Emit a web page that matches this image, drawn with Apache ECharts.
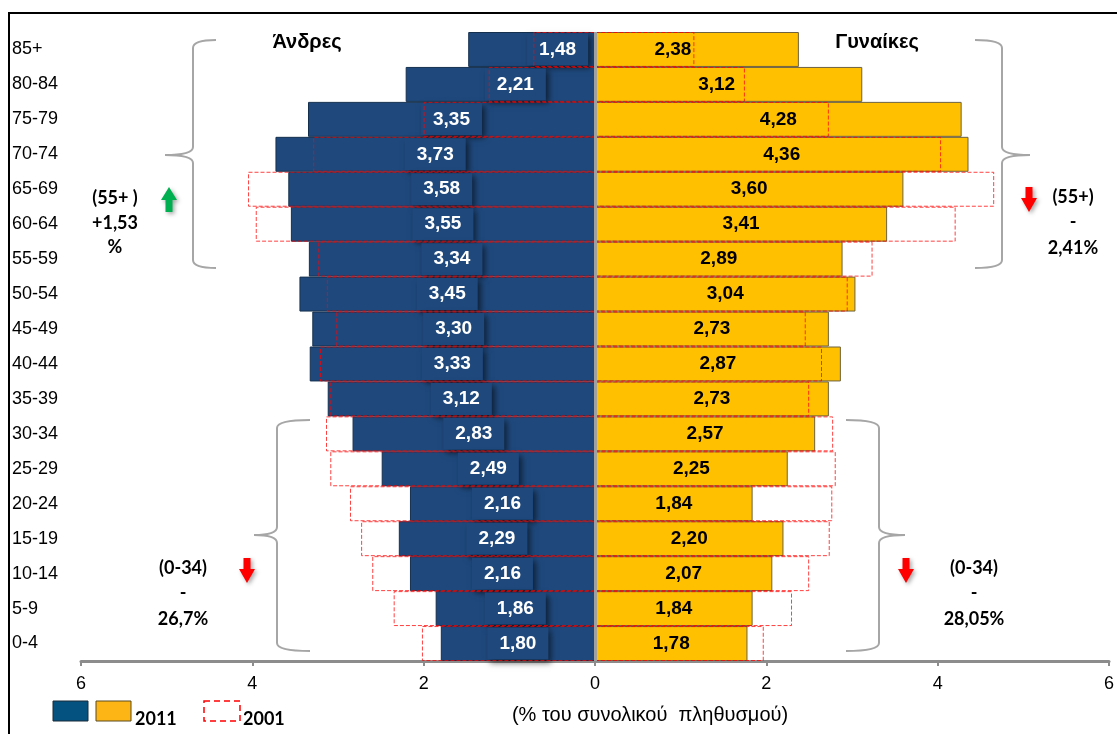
<!DOCTYPE html>
<html>
<head>
<meta charset="utf-8">
<script src="https://cdn.jsdelivr.net/npm/echarts@6/dist/echarts.min.js"></script>
<style>
html,body{margin:0;padding:0;background:#fff;}
#chart{width:1117px;height:734px;}
</style>
</head>
<body>
<div id="chart"></div>
<script>
// Age groups, top to bottom
var categories = ["85+","80-84","75-79","70-74","65-69","60-64","55-59","50-54","45-49","40-44","35-39","30-34","25-29","20-24","15-19","10-14","5-9","0-4"];
// 2011 (% of total population)
var men2011   = [1.48,2.21,3.35,3.73,3.58,3.55,3.34,3.45,3.30,3.33,3.12,2.83,2.49,2.16,2.29,2.16,1.86,1.80];
var women2011 = [2.38,3.12,4.28,4.36,3.60,3.41,2.89,3.04,2.73,2.87,2.73,2.57,2.25,1.84,2.20,2.07,1.84,1.78];
// 2001 (estimated from outlines)
var men2001   = [0.72,1.24,2.00,3.29,4.05,3.96,3.23,3.13,3.02,3.21,3.09,3.14,3.09,2.86,2.73,2.60,2.35,2.02];
var women2001 = [1.16,1.75,2.73,4.04,4.66,4.21,3.24,2.95,2.46,2.65,2.50,2.78,2.81,2.77,2.74,2.50,2.30,1.97];

function fmt(v){ return Math.abs(v).toFixed(2).replace('.', ','); }

// label nudges (pixels) for the first rows, as placed in the original
var menNudge = {0: 26, 1: 15};
var womenNudge = {0: -24, 1: -12};
function items(arr, sign, nudge){
  return arr.map(function(v, i){
    var o = {value: sign * v};
    if (nudge && nudge[i] !== undefined) o.label = {offset: [nudge[i], 0]};
    return o;
  });
}

var chart = echarts.init(document.getElementById('chart'));

var braceStyle = {stroke:'#A6A6A6', lineWidth:2, fill:null};
function brace(xv, xc, xt, y1, ym, y2){
  var r = 8;
  return {
    type: 'group',
    children: [
      {type:'bezierCurve', shape:{x1:xc, y1:y1, x2:xv, y2:y1+r, cpx1:xv, cpy1:y1}, style:braceStyle},
      {type:'line', shape:{x1:xv, y1:y1+r, x2:xv, y2:ym-r}, style:braceStyle},
      {type:'bezierCurve', shape:{x1:xv, y1:ym-r, x2:xt, y2:ym, cpx1:xv, cpy1:ym}, style:braceStyle},
      {type:'bezierCurve', shape:{x1:xt, y1:ym, x2:xv, y2:ym+r, cpx1:xv, cpy1:ym}, style:braceStyle},
      {type:'line', shape:{x1:xv, y1:ym+r, x2:xv, y2:y2-r}, style:braceStyle},
      {type:'bezierCurve', shape:{x1:xv, y1:y2-r, x2:xc, y2:y2, cpx1:xv, cpy1:y2}, style:braceStyle}
    ]
  };
}
function downArrow(x, y){ // x = center, y = top
  return [[x-3.5,y],[x+3.5,y],[x+3.5,y+11],[x+8,y+11],[x,y+25],[x-8,y+11],[x-3.5,y+11]];
}
function upArrow(x, y){ // x = center, y = top
  return [[x,y],[x+8,y+13],[x+3.5,y+13],[x+3.5,y+25],[x-3.5,y+25],[x-3.5,y+13],[x-8,y+13]];
}
var arrowShadow = {shadowBlur:4, shadowColor:'rgba(0,0,0,0.35)', shadowOffsetX:2, shadowOffsetY:2};
var annFont = 'bold 18px Lato, "Liberation Sans", sans-serif';
function T(x, y, s, font){
  return {type:'text', x:x, y:y, style:{text:s, font:font||annFont, fill:'#000', align:'center', verticalAlign:'middle'}};
}

var option = {
  animation: false,
  backgroundColor: '#fff',
  grid: {left: 81, right: 8, top: 32, bottom: 73, containLabel: false},
  xAxis: {
    type: 'value', min: -6, max: 6, interval: 2,
    axisLine: {show: true, lineStyle: {color: '#8C8C8C', width: 3}},
    axisTick: {show: true, length: 5, lineStyle: {color: '#8C8C8C', width: 2}},
    splitLine: {show: false},
    axisLabel: {fontSize: 18, color: '#000', margin: 14, fontFamily: '"Liberation Sans", Arial, sans-serif',
      formatter: function(v){ return Math.abs(v); }}
  },
  yAxis: {
    type: 'category', data: categories, inverse: true,
    axisLine: {show: false}, axisTick: {show: false},
    axisLabel: {align: 'left', margin: 69, fontSize: 18, color: '#000', fontFamily: '"Liberation Sans", Arial, sans-serif'}
  },
  series: [
    {
      name: 'Άνδρες 2011', type: 'bar', data: items(men2011, -1, menNudge),
      barGap: '-100%', barCategoryGap: '0%',
      itemStyle: {color: '#1F497D', borderColor: '#15304F', borderWidth: 1},
      label: {
        show: true, position: 'inside', color: '#fff', fontSize: 19, fontWeight: 'bold',
        fontFamily: '"Liberation Sans", Arial, sans-serif',
        backgroundColor: '#1F497D', padding: [7, 12, 6, 12],
        shadowColor: 'rgba(0,0,0,0.55)', shadowBlur: 6, shadowOffsetX: 3, shadowOffsetY: 3,
        formatter: function(p){ return fmt(p.value); }
      },
      markLine: {
        silent: true, symbol: 'none', label: {show: false},
        lineStyle: {color: '#A0A0A0', width: 3, type: 'solid'},
        data: [{xAxis: 0}]
      },
      z: 2
    },
    {
      name: 'Γυναίκες 2011', type: 'bar', data: items(women2011, 1, womenNudge),
      barGap: '-100%', barCategoryGap: '0%',
      itemStyle: {color: '#FFC000', borderColor: '#6E6240', borderWidth: 1},
      label: {
        show: true, position: 'inside', color: '#000', fontSize: 19, fontWeight: 'bold',
        fontFamily: '"Liberation Sans", Arial, sans-serif',
        formatter: function(p){ return fmt(p.value); }
      },
      z: 2
    },
    {
      name: 'Άνδρες 2001', type: 'bar', data: items(men2001, -1),
      barGap: '-100%', barCategoryGap: '0%',
      itemStyle: {color: 'rgba(0,0,0,0)', borderColor: 'rgba(255,0,0,0.75)', borderWidth: 1, borderType: 'dashed'},
      z: 3
    },
    {
      name: 'Γυναίκες 2001', type: 'bar', data: items(women2001, 1),
      barGap: '-100%', barCategoryGap: '0%',
      itemStyle: {color: 'rgba(0,0,0,0)', borderColor: 'rgba(255,0,0,0.75)', borderWidth: 1, borderType: 'dashed'},
      z: 3
    }
  ],
  graphic: [
    // frame
    {type:'polyline', shape:{points:[[9,734],[9,13],[1117,13]]}, style:{stroke:'#000', lineWidth:2, fill:null}},
    // sex titles
    T(307, 42, 'Άνδρες', 'bold 20px "Liberation Sans", Arial, sans-serif'),
    T(877, 42, 'Γυναίκες', 'bold 20px "Liberation Sans", Arial, sans-serif'),
    // braces
    brace(193, 216, 165, 40, 155, 268),
    brace(1002, 975, 1030, 40, 155, 268),
    brace(277, 310, 254, 420, 535, 651),
    brace(879, 846, 905, 420, 535, 651),
    // arrows
    {type:'polygon', shape:{points: upArrow(169, 187)}, style:Object.assign({fill:'#00B050'}, arrowShadow)},
    {type:'polygon', shape:{points: downArrow(1029, 187)}, style:Object.assign({fill:'#FF0000'}, arrowShadow)},
    {type:'polygon', shape:{points: downArrow(247, 558)}, style:Object.assign({fill:'#FF0000'}, arrowShadow)},
    {type:'polygon', shape:{points: downArrow(906, 558)}, style:Object.assign({fill:'#FF0000'}, arrowShadow)},
    // annotation texts
    T(115, 198, '(55+ )'), T(115, 223, '+1,53'), T(115, 247, '%'),
    T(1073, 197, '(55+)'), T(1073, 222, '-'), T(1073, 248, '2,41%'),
    T(183, 568, '(0-34)'), T(183, 593, '-'), T(183, 619, '26,7%'),
    T(974, 568, '(0-34)'), T(974, 593, '-'), T(974, 619, '28,05%'),
    // x axis title
    T(650, 715, '(% του συνολικού  πληθυσμού)', '20px "Liberation Sans", Arial, sans-serif'),
    // legend
    {type:'rect', shape:{x:53, y:701, width:35, height:20}, style:{fill:'#03527F', stroke:'#1A2A3A', lineWidth:1}},
    {type:'rect', shape:{x:96, y:701, width:35, height:20}, style:{fill:'#FDB515', stroke:'#5A4A20', lineWidth:1}},
    {type:'text', x:135, y:719, style:{text:'2011', font:'bold 18px Lato, "Liberation Sans", sans-serif', fill:'#000', align:'left', verticalAlign:'middle'}},
    {type:'rect', shape:{x:204, y:701, width:36, height:20}, style:{fill:'#fff', stroke:'#FF0000', lineWidth:1.5, lineDash:[6,4]}},
    {type:'text', x:243, y:719, style:{text:'2001', font:'bold 18px Lato, "Liberation Sans", sans-serif', fill:'#000', align:'left', verticalAlign:'middle'}}
  ]
};
chart.setOption(option);
</script>
</body>
</html>
